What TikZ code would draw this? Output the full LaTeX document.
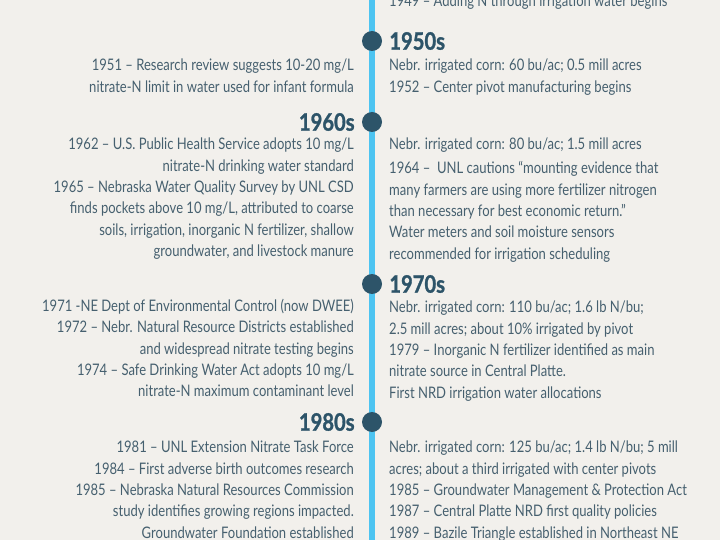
\documentclass[tikz,border=0pt]{standalone}
\usepackage{fontspec}
\setmainfont{Lato}[FakeStretch=0.82]
\newfontfamily\decadefont{Lato}[FakeStretch=0.84, BoldFeatures={FakeBold=1.2}]
\usetikzlibrary{positioning}
\definecolor{paper}{HTML}{F2F0EC}
\definecolor{deep}{HTML}{2D5469}
\definecolor{note}{HTML}{46606F}
\definecolor{stem}{HTML}{4DC4F1}
\newcommand\notesize{\fontsize{15.9}{21.3}\selectfont}
\tikzset{
every node/.style={inner sep=0pt},
dot/.style={ % Sets the properties for each decade marker
circle,
fill=deep,
minimum size=20pt},
decade/.style={ % Decade headings next to the markers
font=\decadefont\bfseries\fontsize{24}{24}\selectfont,
text=deep},
leftnote/.style={anchor=north east, align=right, font=\notesize, text=note},
rightnote/.style={anchor=north west, align=left, font=\notesize, text=note},
stemline/.style={draw=stem, line width=6pt}}

\begin{document}
\begin{tikzpicture}[x=1pt,y=-1pt]
\clip (0,0) rectangle (720,540);
\fill[paper] (0,0) rectangle (720,540);
\coordinate (top) at (372,0);
\coordinate (bottom) at (372,540);
\draw[stemline] (top) -- (bottom);
% markers
\node[dot] (d50) at (372,41) {};
\node[dot] (d60) at (372,122) {};
\node[dot] (d70) at (372,284) {};
\node[dot] (d80) at (372,422) {};
\node[decade, right=7pt of d50] (h50) {1950s};
\node[decade, left=7pt of d60] (h60) {1960s};
\node[decade, right=7pt of d70] (h70) {1970s};
\node[decade, left=7pt of d80] (h80) {1980s};
% events
\node[rightnote] (r40) at (389,-5) {1949 -- Adding N through irrigation water begins};
\node[leftnote] (l50) at (354,59) {1951 -- Research review suggests 10-20 mg/L\\
nitrate-N limit in water used for infant formula};
\node[rightnote] (r50) at (389,59) {Nebr. irrigated corn: 60 bu/ac; 0.5 mill acres\\
1952 -- Center pivot manufacturing begins};
\node[leftnote] (l60) at (354,138) {1962 -- U.S. Public Health Service adopts 10 mg/L\\
nitrate-N drinking water standard\\
1965 -- Nebraska Water Quality Survey by UNL CSD\\
finds pockets above 10 mg/L, attributed to coarse\\
soils, irrigation, inorganic N fertilizer, shallow\\
groundwater, and livestock manure};
\node[rightnote] (r60) at (389,138) {Nebr. irrigated corn: 80 bu/ac; 1.5 mill acres\\[2.7pt]
1964 --\ \ UNL cautions “mounting evidence that\\
many farmers are using more fertilizer nitrogen\\
than necessary for best economic return.”\\
Water meters and soil moisture sensors\\
recommended for irrigation scheduling};
\node[leftnote] (l70) at (354,299) {1971 -NE Dept of Environmental Control (now DWEE)\\
1972 -- Nebr. Natural Resource Districts established\\
and widespread nitrate testing begins\\
1974 -- Safe Drinking Water Act adopts 10 mg/L\\
nitrate-N maximum contaminant level};
\node[rightnote] (r70) at (389,301) {Nebr. irrigated corn: 110 bu/ac; 1.6 lb N/bu;\\
2.5 mill acres; about 10\% irrigated by pivot\\
1979 -- Inorganic N fertilizer identified as main\\
nitrate source in Central Platte.\\
First NRD irrigation water allocations};
\node[leftnote] (l80) at (354,441) {1981 -- UNL Extension Nitrate Task Force\\
1984 -- First adverse birth outcomes research\\
1985 -- Nebraska Natural Resources Commission\\
study identifies growing regions impacted.\\
Groundwater Foundation established};
\node[rightnote] (r80) at (389,441) {Nebr. irrigated corn: 125 bu/ac; 1.4 lb N/bu; 5 mill\\
acres; about a third irrigated with center pivots\\
1985 -- Groundwater Management \& Protection Act\\
1987 -- Central Platte NRD first quality policies\\
1989 -- Bazile Triangle established in Northeast NE};
\end{tikzpicture}
\end{document}
